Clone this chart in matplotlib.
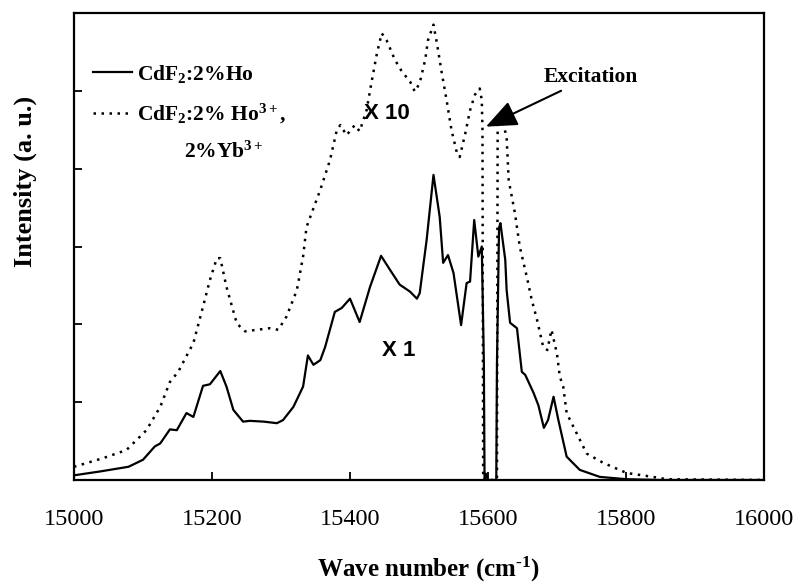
import matplotlib
matplotlib.use("Agg")
import matplotlib.pyplot as plt
import numpy as np

plt.rcParams['mathtext.fontset'] = 'custom'
plt.rcParams['mathtext.rm'] = 'Liberation Serif:bold'
plt.rcParams['mathtext.it'] = 'Liberation Serif:bold:italic'
plt.rcParams['mathtext.bf'] = 'Liberation Serif:bold'

# Solid: CdF2:2%Ho (X 1)
ho_x = [15000, 15038, 15079, 15100, 15117, 15125, 15139, 15149, 15163, 15173,
        15187, 15197, 15212, 15221, 15231, 15245, 15255, 15275, 15294, 15303,
        15318, 15332, 15339, 15347, 15357, 15364, 15378, 15388, 15400, 15414,
        15429, 15445, 15458, 15472, 15487, 15497, 15501, 15511, 15521, 15530,
        15535, 15542, 15550, 15561, 15569, 15574, 15580, 15586, 15591, 15594,
        15595, 15597, 15599, 15601, 15612, 15613, 15616, 15618, 15625, 15627,
        15632, 15642, 15649, 15654, 15666, 15673, 15681, 15687, 15695, 15702,
        15714, 15733, 15762, 15801, 15850, 16000]
ho_y = [0.06, 0.11, 0.17, 0.26, 0.43, 0.47, 0.65, 0.64, 0.86, 0.81,
        1.21, 1.23, 1.40, 1.20, 0.90, 0.75, 0.76, 0.75, 0.73, 0.77,
        0.94, 1.20, 1.60, 1.48, 1.54, 1.71, 2.16, 2.21, 2.33, 2.03,
        2.48, 2.88, 2.70, 2.51, 2.42, 2.33, 2.40, 3.08, 3.92, 3.38,
        2.79, 2.89, 2.66, 1.99, 2.53, 2.55, 3.34, 2.87, 3.00, 1.50,
        0.00, 0.08, 0.02, 0.00, 0.00, 1.50, 3.24, 3.30, 2.83, 2.44,
        2.02, 1.95, 1.39, 1.35, 1.12, 0.96, 0.67, 0.77, 1.07, 0.77,
        0.30, 0.13, 0.04, 0.01, 0.00, 0.00]

# Dotted: CdF2:2% Ho3+, 2%Yb3+ (X 10)
hoyb_x = [15000, 15042, 15076, 15105, 15125, 15139, 15151, 15173, 15185, 15197,
          15207, 15212, 15221, 15236, 15248, 15265, 15284, 15296, 15308, 15323,
          15332, 15337, 15357, 15371, 15381, 15386, 15395, 15407, 15414, 15424,
          15431, 15439, 15446, 15453, 15465, 15475, 15487, 15494, 15501, 15509,
          15513, 15521, 15526, 15533, 15540, 15547, 15555, 15559, 15567, 15574,
          15581, 15588, 15591, 15592, 15593, 15613, 15614, 15622, 15627, 15630,
          15639, 15646, 15656, 15663, 15671, 15680, 15686, 15692, 15700, 15704,
          15709, 15714, 15724, 15743, 15767, 15801, 15839, 15859, 16000]
hoyb_y = [0.17, 0.28, 0.385, 0.64, 0.94, 1.26, 1.39, 1.76, 2.16, 2.57,
          2.85, 2.85, 2.48, 2.01, 1.91, 1.93, 1.95, 1.93, 2.10, 2.44,
          2.87, 3.25, 3.73, 4.11, 4.50, 4.56, 4.43, 4.56, 4.48, 4.75,
          5.10, 5.48, 5.74, 5.65, 5.40, 5.25, 5.12, 4.99, 5.10, 5.40,
          5.65, 5.85, 5.61, 5.23, 4.88, 4.50, 4.20, 4.15, 4.45, 4.75,
          4.95, 5.03, 4.88, 4.50, 0.00, 0.00, 4.58, 4.59, 4.40, 3.85,
          3.43, 3.00, 2.62, 2.33, 2.06, 1.71, 1.67, 1.93, 1.62, 1.33,
          1.20, 0.86, 0.68, 0.34, 0.22, 0.09, 0.04, 0.01, 0.00]

xticks = [15000, 15200, 15400, 15600, 15800, 16000]
yticks = [0, 1, 2, 3, 4, 5, 6]

fig = plt.figure(figsize=(8.01, 5.88), dpi=100)
ax = fig.add_axes([74/801, 1-480/588, (764-74)/801, (480-13)/588])

ax.plot(ho_x, ho_y, color='black', lw=1.6, ls='-', label='CdF$_2$:2%Ho')
ax.plot(hoyb_x, hoyb_y, color='black', lw=1.8, ls=(0, (1, 2.2)),
        label='CdF$_2$:2% Ho$^{3+}$,')

ax.set_xlim(15000, 16000)
ax.set_ylim(0, 6)
ax.set_xticks(xticks)
ax.set_yticks(yticks)
ax.set_yticklabels([])
ax.tick_params(axis='both', direction='in', length=6, width=1.3,
               top=False, right=False)
ax.tick_params(axis='x', pad=21)
for lab in ax.get_xticklabels():
    lab.set_fontfamily('Liberation Serif')
    lab.set_fontsize(17.5)
for sp in ax.spines.values():
    sp.set_linewidth(1.6)

leg = ax.legend(loc='upper left', bbox_to_anchor=(0.015, 0.912), frameon=False,
                prop={'family': 'Liberation Serif', 'weight': 'bold', 'size': 15.5},
                handlelength=1.8, handletextpad=0.25, labelspacing=0.8,
                borderaxespad=0)

ax.text(15159, 4.21, '2%Yb$^{3+}$', family='Liberation Serif', weight='bold',
        fontsize=15.5, ha='left', va='center')

ax.text(15453, 4.71, 'X 10', family='Liberation Sans', weight='bold',
        fontsize=16, ha='center', va='center')
ax.text(15471, 1.66, 'X 1', family='Liberation Sans', weight='bold',
        fontsize=16, ha='center', va='center')

ax.annotate('Excitation', xy=(15597, 4.54), xytext=(15680, 5.18),
            family='Liberation Serif', weight='bold', fontsize=15.5,
            ha='left', va='center',
            arrowprops=dict(arrowstyle='-|>,head_length=1.2,head_width=0.5',
                            mutation_scale=16, lw=1.5, color='black',
                            shrinkA=2, shrinkB=0))

fig.text(429/801, 1-569/588, r'Wave number (cm$^{\text{-}1}$)', family='Liberation Serif',
         weight='bold', fontsize=18, ha='center', va='center')
fig.text(25/801, 1-181/588, 'Intensity (a. u.)', family='Liberation Serif',
         weight='bold', fontsize=19, ha='center', va='center', rotation=90)

fig.savefig('out.png', dpi=100)
